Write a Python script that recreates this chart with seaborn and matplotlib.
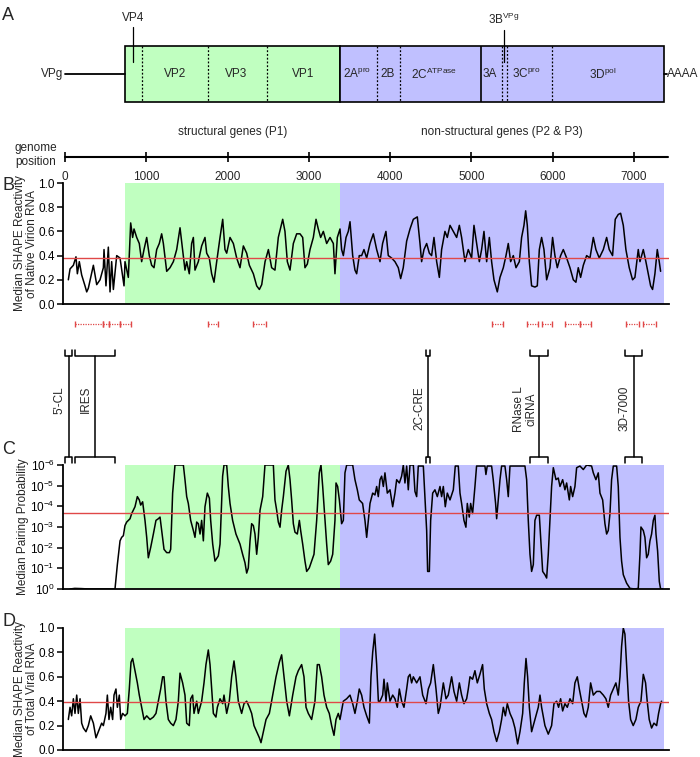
import numpy as np
import pandas as pd
import seaborn as sns
import matplotlib.pyplot as plt
from matplotlib.patches import Rectangle
from matplotlib.ticker import NullLocator

sns.set_style("ticks")
plt.rcParams['font.family'] = ['Liberation Sans', 'DejaVu Sans']
plt.rcParams['mathtext.fontset'] = 'custom'
plt.rcParams['mathtext.rm'] = 'Liberation Sans'
plt.rcParams['mathtext.it'] = 'Liberation Sans:italic'
plt.rcParams['font.size'] = 8.5

GREEN = '#c0ffc0'
BLUE = '#c0c0ff'
RED = '#e04848'

# ---- genome map (nt) ----
p1_start, p1_end, genome_end = 743, 3385, 7370
dashed_bounds = [949, 1765, 2479, 3835, 4126, 5374, 5440, 5989]
solid_bounds = [5113]
gene_names = ["VP2", "VP3", "VP1", r"2A$^{\mathrm{pro}}$", "2B",
              r"2C$^{\mathrm{ATPase}}$", "3A", r"3C$^{\mathrm{pro}}$", r"3D$^{\mathrm{pol}}$"]
gene_pos = [1350, 2110, 2930, 3590, 3965, 4540, 5220, 5670, 6610]
vp4_pos, vpg_pos = 836, 5400
axis_ticks = [0, 1000, 2000, 3000, 4000, 5000, 6000, 7000]

# regions with protection (red dotted intervals)
red_intervals = [(123, 467), (467, 541), (541, 676), (676, 811), (1757, 1880), (2310, 2469),
                 (5258, 5393), (5688, 5823), (5872, 5995), (6155, 6339), (6339, 6474),
                 (6904, 7064), (7113, 7273)]

# known RNA elements
elements = ["5'-CL", "IRES", "2C-CRE", "RNase L\nciRNA", "3D-7000"]
element_span = [(1, 88), (123, 614), (4435, 4496), (5725, 5946), (6892, 7101)]

# ---- data ----
native_virion = [(41,.20),(62,.29),(103,.32),(135,.39),(152,.25),(176,.35),(205,.24),(246,.15),(267,.10),(287,.13),
    (316,.22),(349,.32),(390,.16),(431,.20),(451,.25),(472,.30),(480,.45),(504,.15),(533,.47),(554,.10),(574,.35),
    (595,.12),(636,.40),(677,.38),(726,.15),(738,.35),(779,.22),(808,.67),(832,.55),(849,.62),(882,.55),(914,.50),
    (943,.35),(972,.45),(1005,.55),(1037,.40),(1066,.32),(1095,.30),(1128,.45),(1160,.50),(1189,.58),(1210,.50),
    (1251,.27),(1292,.30),(1333,.35),(1374,.45),(1415,.63),(1447,.45),(1476,.28),(1497,.35),(1529,.25),(1558,.50),
    (1579,.55),(1599,.28),(1640,.35),(1681,.48),(1722,.55),(1743,.42),(1775,.38),(1804,.25),(1833,.18),(1866,.35),
    (1907,.55),(1940,.70),(1968,.45),(1989,.42),(2030,.55),(2071,.50),(2112,.38),(2153,.30),(2194,.48),(2235,.42),
    (2268,.32),(2317,.25),(2358,.15),(2391,.12),(2420,.16),(2461,.35),(2502,.45),(2542,.30),(2583,.28),(2624,.55),
    (2678,.70),(2706,.60),(2735,.35),(2768,.28),(2809,.50),(2850,.58),(2891,.58),(2924,.55),(2952,.30),(2981,.33),
    (3014,.45),(3055,.55),(3088,.70),(3116,.62),(3145,.55),(3178,.60),(3219,.50),(3260,.55),(3301,.50),(3321,.25),
    (3350,.55),(3383,.62),(3403,.45),(3424,.40),(3457,.55),(3485,.60),(3506,.68),(3539,.40),(3567,.28),(3588,.25),
    (3620,.40),(3649,.40),(3678,.45),(3711,.38),(3752,.50),(3793,.58),(3834,.45),(3875,.35),(3907,.50),(3948,.60),
    (3977,.40),(4018,.38),(4059,.35),(4100,.30),(4129,.21),(4161,.30),(4203,.52),(4244,.62),(4285,.70),(4334,.72),
    (4367,.50),(4387,.35),(4416,.45),(4449,.50),(4482,.42),(4510,.40),(4539,.55),(4572,.35),(4605,.22),(4633,.45),
    (4674,.60),(4703,.55),(4736,.65),(4777,.60),(4818,.55),(4851,.65),(4879,.55),(4920,.35),(4961,.45),(5002,.38),
    (5031,.65),(5064,.50),(5097,.35),(5125,.45),(5154,.60),(5187,.35),(5220,.55),(5248,.35),(5277,.20),(5318,.10),
    (5351,.22),(5392,.30),(5425,.40),(5453,.50),(5482,.35),(5515,.40),(5548,.30),(5589,.35),(5617,.55),(5646,.65),
    (5667,.77),(5687,.65),(5712,.35),(5740,.15),(5781,.14),(5810,.15),(5835,.45),(5863,.55),(5892,.45),(5925,.20),
    (5966,.30),(5998,.55),(6027,.40),(6056,.30),(6097,.40),(6130,.45),(6171,.38),(6212,.30),(6253,.20),(6285,.18),
    (6314,.30),(6343,.22),(6376,.32),(6417,.40),(6458,.38),(6499,.55),(6531,.45),(6572,.38),(6622,.45),(6663,.55),
    (6695,.45),(6736,.40),(6769,.70),(6806,.74),(6835,.75),(6868,.65),(6900,.45),(6941,.30),(6982,.20),(7011,.22),
    (7052,.45),(7073,.35),(7114,.45),(7146,.35),(7175,.25),(7204,.15),(7228,.12),(7257,.25),(7286,.45),(7310,.35),
    (7327,.27)]

# log10 of median pairing probability
pairing_log10 = [(62,0),(120,-0.03),(200,-0.02),(300,0),(615,0),(644,-1.18),(677,-2.33),(697,-2.5),(718,-2.58),
    (738,-3.07),(759,-3.24),(800,-3.4),(820,-3.65),(861,-3.98),(890,-4.47),(914,-4.31),(931,-4.06),(955,-4.22),
    (984,-3.32),(1005,-2.5),(1025,-1.51),(1054,-2.01),(1087,-2.66),(1119,-3.32),(1148,-3.4),(1169,-3.48),(1189,-2.83),
    (1218,-1.92),(1251,-1.76),(1284,-1.76),(1300,-1.92),(1324,-4.64),(1353,-6),(1456,-6),(1476,-5.29),(1497,-4.47),
    (1517,-4.14),(1546,-3.32),(1579,-2.83),(1599,-2.5),(1620,-3.24),(1640,-3.16),(1661,-2.66),(1681,-3.32),
    (1702,-2.33),(1722,-3.98),(1751,-4.64),(1776,-4.39),(1792,-3.32),(1817,-2.17),(1845,-1.35),(1886,-1.6),
    (1907,-2.17),(1939,-5.46),(1956,-6),(1989,-6),(2009,-4.96),(2030,-4.14),(2062,-3.32),(2103,-2.66),(2153,-2.17),
    (2185,-1.68),(2214,-1.27),(2235,-0.77),(2255,-1.02),(2276,-2.33),(2296,-3.16),(2317,-3.07),(2337,-2.66),
    (2358,-1.68),(2378,-2.5),(2399,-3.81),(2432,-4.47),(2460,-6),(2563,-6),(2583,-4.31),(2604,-3.81),(2624,-3.24),
    (2645,-2.99),(2665,-3.81),(2686,-4.47),(2719,-5.7),(2747,-6),(2768,-5.29),(2788,-4.31),(2809,-3.16),(2829,-2.75),
    (2858,-2.66),(2883,-3.32),(2899,-2.83),(2924,-2.17),(2952,-1.35),(2973,-0.85),(3005,-1.02),(3034,-1.35),
    (3063,-1.68),(3096,-3.32),(3128,-5.62),(3149,-6),(3170,-4.96),(3198,-3.32),(3219,-2.17),(3239,-1.18),(3268,-1.35),
    (3293,-1.68),(3321,-3.32),(3334,-5.13),(3354,-4.96),(3375,-4.31),(3403,-3.16),(3424,-3.32),(3444,-5.62),(3465,-6),
    (3539,-6),(3567,-5.29),(3596,-4.8),(3620,-4.31),(3661,-4.14),(3690,-3.32),(3711,-2.5),(3731,-3.32),(3752,-4.14),
    (3785,-4.64),(3813,-4.55),(3834,-4.96),(3854,-4.47),(3875,-5.29),(3895,-5.46),(3916,-4.96),(3936,-5.62),
    (3965,-4.64),(3998,-4.8),(4031,-3.98),(4059,-4.64),(4080,-5.29),(4113,-5.13),(4141,-5.46),(4162,-6),(4182,-5.13),
    (4203,-5.95),(4223,-4.8),(4244,-6),(4285,-6),(4305,-4.72),(4326,-4.47),(4346,-5.95),(4408,-5.95),(4428,-4.47),
    (4449,-2.83),(4461,-0.85),(4482,-0.85),(4498,-3.32),(4523,-4.64),(4551,-4.8),(4580,-4.47),(4613,-4.96),
    (4633,-4.47),(4654,-4.96),(4678,-3.98),(4703,-4.64),(4736,-4.31),(4777,-4.8),(4801,-5.95),(4838,-5.95),
    (4859,-4.64),(4879,-4.14),(4908,-3.32),(4932,-2.99),(4949,-4.14),(4973,-3.48),(4990,-4.14),(5014,-3.65),
    (5043,-4.96),(5063,-5.95),(5166,-5.95),(5178,-5.54),(5194,-5.95),(5248,-5.95),(5268,-5.29),(5297,-4.14),
    (5310,-3.4),(5330,-4.31),(5351,-5.29),(5371,-5.95),(5412,-5.95),(5433,-5.29),(5453,-4.47),(5474,-5.95),
    (5658,-5.95),(5679,-5.29),(5699,-3.32),(5720,-1.68),(5740,-0.85),(5761,-1.18),(5781,-3.32),(5802,-3.57),
    (5835,-3.57),(5851,-2.5),(5876,-0.85),(5904,-0.69),(5925,-0.53),(5945,-1.68),(5966,-3.32),(5986,-4.96),
    (6007,-5.87),(6040,-5.29),(6068,-5.37),(6089,-4.96),(6122,-5.29),(6150,-4.8),(6171,-5.13),(6204,-4.31),
    (6220,-4.96),(6245,-4.47),(6273,-4.96),(6294,-5.87),(6335,-5.95),(6376,-5.78),(6417,-6),(6478,-5.95),
    (6499,-5.62),(6531,-5.29),(6560,-5.62),(6581,-4.64),(6614,-4.31),(6642,-3.16),(6663,-2.66),(6683,-2.83),
    (6704,-3.65),(6724,-5.29),(6745,-5.95),(6786,-5.95),(6806,-4.96),(6827,-2.5),(6847,-1.35),(6868,-0.69),
    (6909,-0.28),(6950,-0.03),(7011,0),(7052,-0.03),(7073,-1.68),(7085,-3.0),(7114,-2.83),(7134,-2.5),(7155,-1.51),
    (7175,-1.68),(7196,-2.33),(7216,-2.66),(7237,-3.32),(7257,-3.57),(7270,-2.66),(7290,-1.84),(7311,-0.36),
    (7327,0),(7352,0)]

total_viral = [(41,.25),(62,.35),(82,.28),(103,.42),(123,.30),(144,.45),(164,.30),(185,.42),(205,.22),(226,.18),
    (258,.15),(287,.20),(316,.28),(349,.22),(381,.10),(410,.15),(451,.22),(472,.20),(504,.30),(521,.45),(541,.25),
    (562,.35),(586,.25),(603,.45),(627,.50),(644,.35),(668,.45),(685,.25),(709,.30),(738,.28),(767,.30),(791,.50),
    (812,.72),(832,.75),(861,.65),(890,.55),(914,.45),(943,.35),(972,.25),(1005,.28),(1046,.25),(1087,.27),(1119,.30),
    (1148,.40),(1177,.50),(1201,.60),(1218,.60),(1242,.40),(1271,.25),(1300,.22),(1333,.20),(1365,.25),(1394,.40),
    (1415,.63),(1447,.55),(1476,.45),(1497,.22),(1529,.20),(1546,.42),(1570,.45),(1587,.30),(1620,.40),(1640,.30),
    (1661,.35),(1681,.40),(1710,.55),(1734,.70),(1763,.82),(1784,.70),(1804,.50),(1825,.30),(1857,.27),(1874,.35),
    (1907,.42),(1940,.38),(1956,.45),(1989,.30),(2021,.40),(2050,.60),(2079,.73),(2103,.60),(2132,.40),(2173,.30),
    (2202,.38),(2235,.40),(2268,.35),(2296,.30),(2325,.20),(2358,.15),(2391,.10),(2411,.06),(2440,.15),(2473,.25),
    (2514,.30),(2555,.45),(2596,.60),(2637,.72),(2665,.78),(2694,.60),(2727,.40),(2760,.28),(2801,.45),(2842,.60),
    (2870,.65),(2911,.70),(2940,.60),(2965,.35),(2993,.30),(3034,.25),(3075,.40),(3104,.70),(3128,.70),(3157,.60),
    (3186,.45),(3219,.35),(3251,.30),(3280,.20),(3309,.12),(3334,.25),(3362,.30),(3383,.25),(3424,.40),(3465,.42),
    (3506,.45),(3539,.38),(3567,.30),(3596,.40),(3620,.50),(3649,.45),(3678,.35),(3711,.28),(3744,.22),(3764,.60),
    (3785,.80),(3809,.95),(3834,.70),(3855,.40),(3875,.40),(3908,.45),(3924,.58),(3949,.40),(3965,.55),(3998,.40),
    (4031,.45),(4059,.42),(4088,.35),(4113,.50),(4141,.40),(4170,.35),(4203,.50),(4223,.60),(4244,.62),(4264,.55),
    (4285,.60),(4326,.55),(4367,.60),(4400,.45),(4441,.38),(4469,.50),(4498,.55),(4531,.70),(4564,.50),(4592,.30),
    (4613,.35),(4654,.55),(4687,.42),(4715,.45),(4756,.60),(4785,.48),(4818,.40),(4851,.55),(4879,.45),(4908,.38),
    (4941,.42),(4961,.50),(4982,.60),(5014,.58),(5043,.65),(5072,.55),(5104,.62),(5137,.70),(5158,.50),(5187,.38),
    (5220,.30),(5248,.25),(5277,.15),(5310,.07),(5343,.15),(5371,.25),(5392,.35),(5417,.28),(5441,.38),(5474,.30),
    (5507,.25),(5535,.18),(5568,.05),(5597,.15),(5630,.30),(5650,.55),(5671,.75),(5691,.60),(5712,.35),(5740,.15),
    (5781,.25),(5822,.35),(5843,.45),(5863,.35),(5904,.20),(5945,.13),(5986,.20),(6015,.38),(6048,.40),(6072,.35),
    (6097,.42),(6122,.32),(6150,.38),(6179,.35),(6212,.42),(6245,.38),(6273,.55),(6302,.60),(6327,.50),(6355,.40),
    (6384,.30),(6409,.27),(6437,.35),(6466,.55),(6499,.45),(6540,.48),(6581,.48),(6622,.45),(6654,.42),(6683,.35),
    (6712,.45),(6745,.50),(6777,.55),(6806,.45),(6827,.60),(6847,.85),(6868,1.00),(6888,.95),(6909,.70),(6933,.40),
    (6958,.25),(6990,.20),(7023,.25),(7052,.35),(7085,.40),(7114,.62),(7142,.55),(7162,.40),(7187,.25),(7216,.18),
    (7245,.22),(7278,.20),(7302,.30),(7327,.38),(7339,.40)]

native_median, pairing_median_log10, total_median = 0.38, -3.7, 0.39

# ---- layout helpers (pixel based) ----
W, H = 700, 757
X0, PPN = 65, 0.08129   # pixel of nt 0, pixels per nt


def nt(px):
    return (px - X0) / PPN


fig = plt.figure(figsize=(W / 100, H / 100), dpi=100)


def panel(top, bottom):
    ax = fig.add_axes([63 / W, 1 - bottom / H, 606 / W, (bottom - top) / H])
    ax.set_xlim(nt(63), nt(669))
    ax.axvspan(p1_start, p1_end, color=GREEN, lw=0, zorder=0)
    ax.axvspan(p1_end, genome_end, color=BLUE, lw=0, zorder=0)
    ax.set_xticks([])
    sns.despine(ax=ax)
    for s in ['left', 'bottom']:
        ax.spines[s].set_linewidth(1.3)
        ax.spines[s].set_color('black')
    ax.tick_params(axis='y', length=4.5, width=1.1, labelsize=8.5, pad=1.5, colors='black')
    return ax


# B
axB = panel(183, 304)
dfB = pd.DataFrame(native_virion, columns=['pos', 'val'])
sns.lineplot(data=dfB, x='pos', y='val', ax=axB, color='black', lw=1.1)
axB.axhline(native_median, color=RED, lw=1)
axB.set_ylim(0, 1)
axB.set_yticks(np.arange(0, 1.01, 0.2))
axB.set_yticklabels([f"{v:.1f}" for v in np.arange(0, 1.01, 0.2)])
axB.set_xlabel('')
axB.set_ylabel("Median SHAPE Reactivity\nof Native Virion RNA", fontsize=8.5, linespacing=1.0)
axB.yaxis.set_label_coords(-0.042, 0.5)

# C
axC = panel(465, 589)
dfC = pd.DataFrame(pairing_log10, columns=['pos', 'lg'])
dfC['val'] = 10.0 ** dfC['lg']
sns.lineplot(data=dfC, x='pos', y='val', ax=axC, color='black', lw=1.1)
axC.axhline(10 ** pairing_median_log10, color=RED, lw=1)
axC.set_yscale('log')
axC.set_ylim(1, 1e-6)
axC.set_yticks([10.0 ** k for k in range(-6, 1)])
axC.yaxis.set_minor_locator(NullLocator())
axC.set_xlabel('')
axC.set_ylabel("Median Pairing Probability", fontsize=8.5)
axC.yaxis.set_label_coords(-0.056, 0.5)

# D
axD = panel(628, 750)
dfD = pd.DataFrame(total_viral, columns=['pos', 'val'])
sns.lineplot(data=dfD, x='pos', y='val', ax=axD, color='black', lw=1.1)
axD.axhline(total_median, color=RED, lw=1)
axD.set_ylim(0, 1)
axD.set_yticks(np.arange(0, 1.01, 0.2))
axD.set_yticklabels([f"{v:.1f}" for v in np.arange(0, 1.01, 0.2)])
axD.set_xlabel('')
axD.set_ylabel("Median SHAPE Reactivity\nof Total Viral RNA", fontsize=8.5, linespacing=1.0)
axD.yaxis.set_label_coords(-0.042, 0.5)

# overlay for genome map, intervals and brackets (x in nt, y in pixels)
ax0 = fig.add_axes([0, 0, 1, 1], zorder=10)
ax0.set_xlim(nt(0), nt(W))
ax0.set_ylim(H, 0)
ax0.axis('off')

# panel A: genome schematic
bar_top, bar_bot = 46, 102
bar_mid = (bar_top + bar_bot) / 2
ax0.plot([0, p1_start], [bar_mid, bar_mid], color='black', lw=1.3)
ax0.plot([genome_end, genome_end + 35], [bar_mid, bar_mid], color='black', lw=1.3)
ax0.add_patch(Rectangle((p1_start, bar_top), p1_end - p1_start, bar_bot - bar_top,
                        fc=GREEN, ec='black', lw=1.2))
ax0.add_patch(Rectangle((p1_end, bar_top), genome_end - p1_end, bar_bot - bar_top,
                        fc=BLUE, ec='black', lw=1.2))
ax0.vlines(dashed_bounds, bar_top, bar_bot, colors='black', lw=0.9, linestyles=(0, (1.5, 1.5)))
ax0.vlines(solid_bounds, bar_top, bar_bot, colors='black', lw=1.2)
for name, pos in zip(gene_names, gene_pos):
    ax0.text(pos, bar_mid, name, ha='center', va='center', fontsize=8.5)
ax0.text(nt(63), bar_mid, "VPg", ha='right', va='center', fontsize=8.5)
ax0.text(genome_end + 35, bar_mid, "AAAA", ha='left', va='center', fontsize=8.5)
ax0.plot([vp4_pos, vp4_pos], [27, 62], color='black', lw=0.9)
ax0.text(vp4_pos, 18, "VP4", ha='center', va='center', fontsize=8.5)
ax0.plot([vpg_pos, vpg_pos], [30, 62], color='black', lw=0.9)
ax0.text(vpg_pos, 19, r"3B$^{\mathrm{VPg}}$", ha='center', va='center', fontsize=8.5)
ax0.text((p1_start + p1_end) / 2, 132, "structural genes (P1)", ha='center', va='center', fontsize=8.5)
ax0.text((p1_end + genome_end) / 2, 132, "non-structural genes (P2 & P3)", ha='center', va='center',
         fontsize=8.5)

# genome position axis
ax0.text(nt(36), 155, "genome\nposition", ha='center', va='center', fontsize=8.5, linespacing=1.3)
ax0.plot([0, nt(668)], [157, 157], color='black', lw=1.5)
ax0.vlines(axis_ticks, 152, 162, colors='black', lw=1.2)
for t in axis_ticks:
    ax0.text(t, 177, str(t), ha='center', va='center', fontsize=8.5)

# red dotted intervals
for s, e in red_intervals:
    ax0.plot([s, e], [324, 324], color=RED, lw=0.9, ls=(0, (1, 1)))
    ax0.vlines([s, e], 321, 327, colors=RED, lw=1)

# element brackets
for name, (s, e) in zip(elements, element_span):
    c = (s + e) / 2
    ax0.plot([s, s, e, e], [350, 356, 356, 350], color='black', lw=1.1)
    ax0.plot([c, c], [356, 457], color='black', lw=1.1)
    ax0.plot([s, s, e, e], [463, 457, 457, 463], color='black', lw=1.1)
    ax0.text(c - 9 / PPN - (5 / PPN if '\n' in name else 0), 386, name, rotation=90,
             ha='center', va='top', fontsize=8.5, linespacing=1.0)

# panel letters
for letter, y in zip("ABCD", [16, 185, 449, 621]):
    fig.text(2 / W, 1 - y / H, letter, fontsize=13, ha='left', va='center')

plt.savefig("out.png", dpi=100)
